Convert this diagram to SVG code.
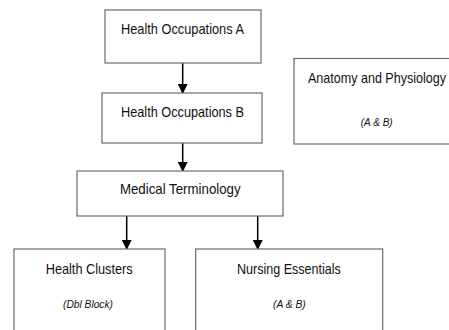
<svg xmlns="http://www.w3.org/2000/svg" width="449" height="330" viewBox="0 0 449 330">
<style>
.box{fill:#fff;stroke:#6b6b6b;stroke-width:1.2}
.t{font-family:"Liberation Sans",Arial,sans-serif;font-size:14.5px;fill:#111;text-anchor:middle}
.s{font-family:"Liberation Sans",Arial,sans-serif;font-size:11.5px;font-style:italic;fill:#111;text-anchor:middle}
.c{stroke:#000;stroke-width:1.5;fill:none;marker-end:url(#ah)}
</style>
<defs>
<marker id="ah" markerWidth="10" markerHeight="10" refX="9" refY="5" orient="auto" markerUnits="userSpaceOnUse">
<path d="M0,0 L10,5 L0,10 Z" fill="#000"/>
</marker>
</defs>
<rect width="449" height="330" fill="#fff"/>
<g id="connectors">
<line class="c" x1="182.7" y1="63" x2="182.7" y2="93"/>
<line class="c" x1="182.7" y1="143" x2="182.7" y2="171"/>
<line class="c" x1="126.7" y1="216" x2="126.7" y2="249"/>
<line class="c" x1="257.7" y1="216" x2="257.7" y2="249"/>
</g>
<g id="hoa">
<rect class="box" x="105" y="10" width="156" height="53"/>
<text class="t" x="182.5" y="33.5" textLength="123" lengthAdjust="spacingAndGlyphs">Health Occupations A</text>
</g>
<g id="hob">
<rect class="box" x="102" y="93" width="160" height="50"/>
<text class="t" x="182.5" y="117" textLength="123" lengthAdjust="spacingAndGlyphs">Health Occupations B</text>
</g>
<g id="anatomy">
<rect class="box" x="294" y="58.5" width="170" height="85.5"/>
<text class="t" x="377" y="82.5" textLength="138" lengthAdjust="spacingAndGlyphs">Anatomy and Physiology</text>
<text class="s" x="376.7" y="126" textLength="32" lengthAdjust="spacingAndGlyphs">(A &amp; B)</text>
</g>
<g id="medterm">
<rect class="box" x="77" y="171" width="206" height="45"/>
<text class="t" x="180.3" y="193.5" textLength="120.7" lengthAdjust="spacingAndGlyphs">Medical Terminology</text>
</g>
<g id="clusters">
<rect class="box" x="14" y="249" width="151" height="90"/>
<text class="t" x="89.2" y="274" textLength="87" lengthAdjust="spacingAndGlyphs">Health Clusters</text>
<text class="s" x="88" y="308" textLength="50" lengthAdjust="spacingAndGlyphs">(Dbl Block)</text>
</g>
<g id="nursing">
<rect class="box" x="195.7" y="249" width="187" height="90"/>
<text class="t" x="288.9" y="274" textLength="103.7" lengthAdjust="spacingAndGlyphs">Nursing Essentials</text>
<text class="s" x="289.4" y="308" textLength="32.7" lengthAdjust="spacingAndGlyphs">(A &amp; B)</text>
</g>
</svg>
